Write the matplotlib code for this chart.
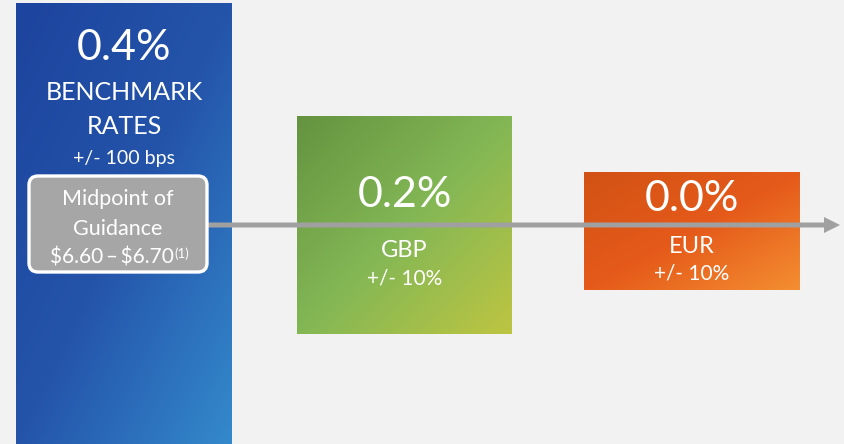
import numpy as np
import matplotlib.pyplot as plt
from matplotlib.patches import FancyBboxPatch
from matplotlib.colors import LinearSegmentedColormap

plt.rcParams['font.family'] = ['Lato', 'DejaVu Sans']

# data
impacts = [0.4, 0.2, 0.0]
names = ["BENCHMARK\nRATES", "GBP", "EUR"]
ranges = ["+/- 100 bps", "+/- 10%", "+/- 10%"]
guidance = ["Midpoint of", "Guidance", "$6.60\u2009\u2013\u2009$6.70"]

# layout in pixels (x0, y0, x1, y1), y downwards
boxes = [(16, 4, 232, 444), (297, 116, 512, 334), (584, 172, 800, 290)]
grads = [["#1d449e", "#2454aa", "#3489cc"],
         ["#659340", "#83b755", "#bdc542"],
         ["#d15214", "#e55a1a", "#f48e31"]]
big_y = [60, 207, 211]
name_y = [100, 257, 253]
range_y = [164, 284, 279]

fig = plt.figure(figsize=(8.44, 4.44), dpi=100)
fig.patch.set_facecolor("#f2f2f2")
ax = fig.add_axes([0, 0, 1, 1])
ax.set_xlim(0, 844)
ax.set_ylim(444, 0)
ax.axis("off")

for (x0, y0, x1, y1), cols in zip(boxes, grads):
    u = np.linspace(0, 1, 200)
    uu, vv = np.meshgrid(u, u)
    t = (uu + vv) / 2
    cmap = LinearSegmentedColormap.from_list("g", cols)
    ax.imshow(cmap(t), extent=(x0, x1, y1, y0), interpolation="bilinear",
              aspect="auto", zorder=1)

# arrow over the boxes
ax.arrow(200, 225, 640, 0, width=5, head_width=16, head_length=16,
         length_includes_head=True, color="#a0a0a0", lw=0, zorder=2)

# guidance box
gb = FancyBboxPatch((29, 176), 178, 96, boxstyle="round,pad=0,rounding_size=9",
                    facecolor="#a6a6a6", edgecolor="white", lw=2.4, zorder=3)
ax.add_patch(gb)

for i, (x0, y0, x1, y1) in enumerate(boxes):
    cx = (x0 + x1) / 2
    ax.text(cx, big_y[i], "%.1f%%" % impacts[i], color="white", fontsize=31,
            ha="center", va="baseline", zorder=4)
    if i == 0:
        ax.text(cx, 100, "BENCHMARK", color="white", fontsize=18,
                ha="center", va="baseline", zorder=4)
        ax.text(cx, 134, "RATES", color="white", fontsize=18,
                ha="center", va="baseline", zorder=4)
        ax.text(cx, range_y[i], ranges[i], color="white", fontsize=14,
                ha="center", va="baseline", zorder=4)
    else:
        ax.text(cx, name_y[i], names[i], color="white", fontsize=17,
                ha="center", va="baseline", zorder=4)
        ax.text(cx, range_y[i], ranges[i], color="white", fontsize=15,
                ha="center", va="baseline", zorder=4)

ax.text(118, 205, guidance[0], color="white", fontsize=15.5, ha="center",
        va="baseline", zorder=4)
ax.text(118, 235, guidance[1], color="white", fontsize=15.5, ha="center",
        va="baseline", zorder=4)
t = ax.text(112, 263, guidance[2], color="white", fontsize=15, ha="center",
            va="baseline", zorder=4, parse_math=False)
ax.annotate("(1)", xy=(1.0, 0.97), xycoords=t, color="white", fontsize=9.5,
            ha="left", va="top", zorder=4)

fig.savefig("out.png", dpi=100, facecolor=fig.get_facecolor())
